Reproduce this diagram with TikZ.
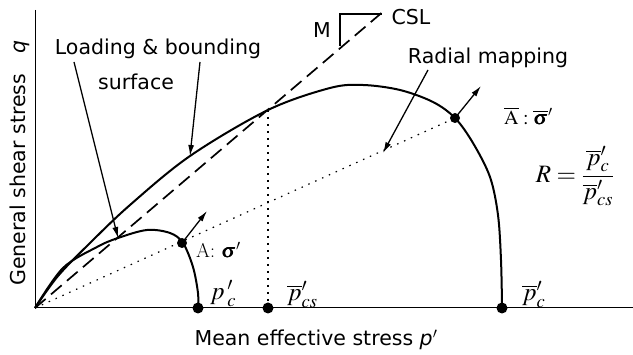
\documentclass[tikz,border=0pt]{standalone}
\usepackage{amsmath}
\usepackage{mathptmx}
\usepackage{bm}
\usepackage{fontspec}
\setsansfont{DejaVu Sans}
\usetikzlibrary{arrows.meta}

\begin{document}
\begin{tikzpicture}[
        x=1pt, y=-1pt,
        surf/.style={line width=2pt, line join=round},
        csl/.style={line width=1.7pt, dash pattern=on 14pt off 7pt},
        rad/.style={line width=1.2pt, dash pattern=on 1.5pt off 6pt},
        proj/.style={line width=2pt, dash pattern=on 2pt off 5pt},
        lbl/.style={font=\sffamily\fontsize{20.5}{24}\selectfont},
        mth/.style={font=\fontsize{20}{24}\selectfont, anchor=base west, inner sep=0pt},
        mthbig/.style={font=\fontsize{25}{30}\selectfont},
        dot/.style={circle, fill=black, inner sep=0pt, minimum size=#1},
        dot/.default=11pt,
        ptr/.style={-{Latex[length=11pt,width=6pt]}, line width=1.3pt},
      ]
        \useasboundingbox (0,0) rectangle (633,355);

        % -- axes --
        \coordinate (O)  at (35,308);
        \coordinate (qt) at (35,10);
        \coordinate (pr) at (633,308);
        \draw[line width=1pt] (qt) -- (O) -- (pr);

        % -- critical state line and slope triangle --
        \coordinate (cs) at (385,10);
        \coordinate (tb) at (340,46);
        \coordinate (tt) at (340,14);
        \coordinate (tr) at (382,14);
        \draw[csl] (O) -- (cs);
        \draw[line width=1.2pt] (tb) -- (tt) -- (tr);
        \node[lbl] (mlab)   at (322,30) {M};
        \node[lbl] (csllab) at (411,17) {CSL};

        % -- bounding surface --
        \draw[surf] plot[smooth, tension=0.55] coordinates {
          (35,308) (58,276) (90,243) (130,205) (190,156) (268,110)
          (330,88) (363,85) (400,90) (433,102) (455,118) (473,143)
          (490,177) (498,215) (501,260) (502,305)};

        % -- loading surface --
        \draw[surf] plot[smooth, tension=0.55] coordinates {
          (35,308) (63,268) (97,247) (118,238) (147,230) (170,233)
          (183,243) (193,267) (198,293) (198,307)};

        % -- points --
        \node[dot=10pt] (A)    at (182,243) {};
        \node[dot=10pt] (Abar) at (455,118) {};
        \node[dot] (pc)  at (198,308) {};
        \node[dot] (pcs) at (268,308) {};
        \node[dot] (pcb) at (502,308) {};
        \coordinate (csx) at (268,110);

        \draw[rad]  (O) -- (Abar.center);
        \draw[proj] (csx) -- (pcs.center);

        % -- normals --
        \coordinate (nA)    at (207,211);
        \coordinate (nAbar) at (481,86);
        \draw[ptr] (A.center) -- (nA);
        \draw[ptr] (Abar.center) -- (nAbar);

        % -- labels --
        \node[lbl] (loadlab) at (158,49) {Loading \& bounding};
        \node[lbl] (surflab) at (136,82) {surface};
        \node[lbl] (radlab)  at (488,58) {Radial mapping};
        \coordinate (l1) at (74,62);
        \coordinate (l2) at (200,62);
        \coordinate (l3) at (428,70);
        \coordinate (s1) at (118,238);
        \coordinate (s2) at (190,156);
        \coordinate (s3) at (383,153);
        \draw[ptr] (l1) -- (s1);
        \draw[ptr] (l2) -- (s2);
        \draw[ptr] (l3) -- (s3);

        \node[mth] (Alab)    at (196,258) {A: $\bm{\sigma}'$};
        \node[mth] (Abarlab) at (504,125) {$\overline{\mathrm{A}}:\overline{\bm{\sigma}}'$};
        \node[mthbig] (Rlab) at (575,176) {$R=\dfrac{\overline{p}'_c}{\overline{p}'_{cs}}$};
        \node[mth, mthbig] (pclab)  at (210,300) {$p\,'_{c}$};
        \node[mth, mthbig] (pcslab) at (287,301) {$\overline{p}'_{cs}$};
        \node[mth, mthbig] (pcblab) at (522,301) {$\overline{p}'_{c}$};

        % -- axis titles --
        \node[lbl] (xlab) at (316,340) {Mean effective stress \textit{p}$'$};
        \node[lbl, rotate=90] (ylab) at (20,163) {General shear stress\quad\textit{q}};
      \end{tikzpicture}
\end{document}
